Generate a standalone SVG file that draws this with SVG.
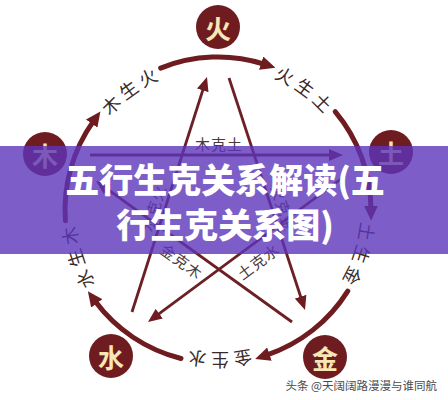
<svg xmlns="http://www.w3.org/2000/svg" width="448" height="400" viewBox="0 0 448 400">
<style>
.node circle{fill:#6e1c20}
.node text{font-family:"Noto Sans CJK SC",sans-serif;font-weight:700;font-size:26px;fill:#f6e7b4;text-anchor:middle;dominant-baseline:central}
.arc{fill:none;stroke:#6e1c20;stroke-width:5;stroke-linecap:round}
.line{fill:none;stroke:#6b2026;stroke-width:2.8}
.sheng{font-family:"Noto Sans CJK SC",sans-serif;font-size:18px;fill:#3a2a2a;letter-spacing:4px}
.ke{font-family:"Noto Sans CJK SC",sans-serif;font-size:15px;fill:#4a3a3a;text-anchor:middle;dominant-baseline:central;letter-spacing:1px}
.title{font-family:"Noto Sans CJK SC",sans-serif;font-weight:900;font-size:34px;fill:#ffffff;text-anchor:middle}
.wm{font-family:"Noto Sans CJK SC",sans-serif;font-size:11.5px;fill:#4a4a4a;text-anchor:end}
</style>
<defs>
<marker id="ah" viewBox="0 0 14 12" refX="3" refY="6" markerWidth="14" markerHeight="12" markerUnits="userSpaceOnUse" orient="auto"><path d="M0,0 L14,6 L0,12 z" fill="#6e1c20"/></marker>
<marker id="ah2" viewBox="0 0 15 14" refX="3" refY="7" markerWidth="15" markerHeight="14" markerUnits="userSpaceOnUse" orient="auto"><path d="M0,0 L15,7 L0,14 z" fill="#6e1c20"/></marker>
<path id="ring" d="M361,210 A143,143 0 1 1 75,210 A143,143 0 1 1 361,210"/>
</defs>
<rect width="448" height="400" fill="#ffffff"/>
<g id="connectors">
<path class="arc" d="M180.99,358.46 A153,153 0 0 1 95.01,301.01" marker-end="url(#ah2)"/>
<path class="arc" d="M65.37,220.67 A153,153 0 0 1 93.44,121.15" marker-end="url(#ah2)"/>
<path class="arc" d="M160.68,68.14 A153,153 0 0 1 264.01,64.08" marker-end="url(#ah2)"/>
<path class="arc" d="M335.20,111.65 A153,153 0 0 1 370.99,208.66" marker-end="url(#ah2)"/>
<path class="arc" d="M347.75,291.08 A153,153 0 0 1 266.55,355.09" marker-end="url(#ah2)"/>
<path class="line" d="M90,155 L332,155" marker-end="url(#ah)"/>
<path class="line" d="M132,312 L203.66,87.48" marker-end="url(#ah)"/>
<path class="line" d="M229,78 L301.58,299.55" marker-end="url(#ah)"/>
<path class="line" d="M345,176 L156.84,315.45" marker-end="url(#ah)"/>
<path class="line" d="M292,322 L104.93,187.42" marker-end="url(#ah)"/>
</g>
<g id="sheng-labels">
<text class="sheng"><textPath href="#ring" startOffset="44.9" text-anchor="middle">土生金</textPath></text>
<text class="sheng"><textPath href="#ring" startOffset="224.6" text-anchor="middle">金生水</textPath></text>
<text class="sheng"><textPath href="#ring" startOffset="404.3" text-anchor="middle">水生木</textPath></text>
<text class="sheng"><textPath href="#ring" startOffset="584.0" text-anchor="middle">木生火</textPath></text>
<text class="sheng"><textPath href="#ring" startOffset="763.7" text-anchor="middle">火生土</textPath></text>
</g>
<g id="ke-labels">
<text class="ke" x="219" y="143">木克土</text>
<text class="ke" transform="translate(182,261) rotate(35.7)">金克木</text>
<text class="ke" transform="translate(258,261) rotate(-36.5)">土克水</text>
<text class="ke" transform="translate(153,208) rotate(-72.3)">水克火</text>
<text class="ke" transform="translate(284,208) rotate(72)">火克金</text>
</g>
<g id="node-huo" class="node"><circle cx="218" cy="27" r="22"/><text x="218" y="27">火</text></g>
<g id="node-mu" class="node"><circle cx="45" cy="154" r="22"/><text x="45" y="154">木</text></g>
<g id="node-tu" class="node"><circle cx="391" cy="152" r="22"/><text x="391" y="152">土</text></g>
<g id="node-shui" class="node"><circle cx="111" cy="356" r="22"/><text x="111" y="356">水</text></g>
<g id="node-jin" class="node"><circle cx="325" cy="357" r="22"/><text x="325" y="357">金</text></g>
<rect x="0" y="146" width="448" height="108" fill="#5c34ba" fill-opacity="0.8"/>
<text class="title" x="225" y="193">五行生克关系解读(五</text>
<text class="title" x="225" y="238">行生克关系图)</text>
<text class="wm" x="437" y="390">头条 @天阔阔路漫漫与谁同航</text>
</svg>
